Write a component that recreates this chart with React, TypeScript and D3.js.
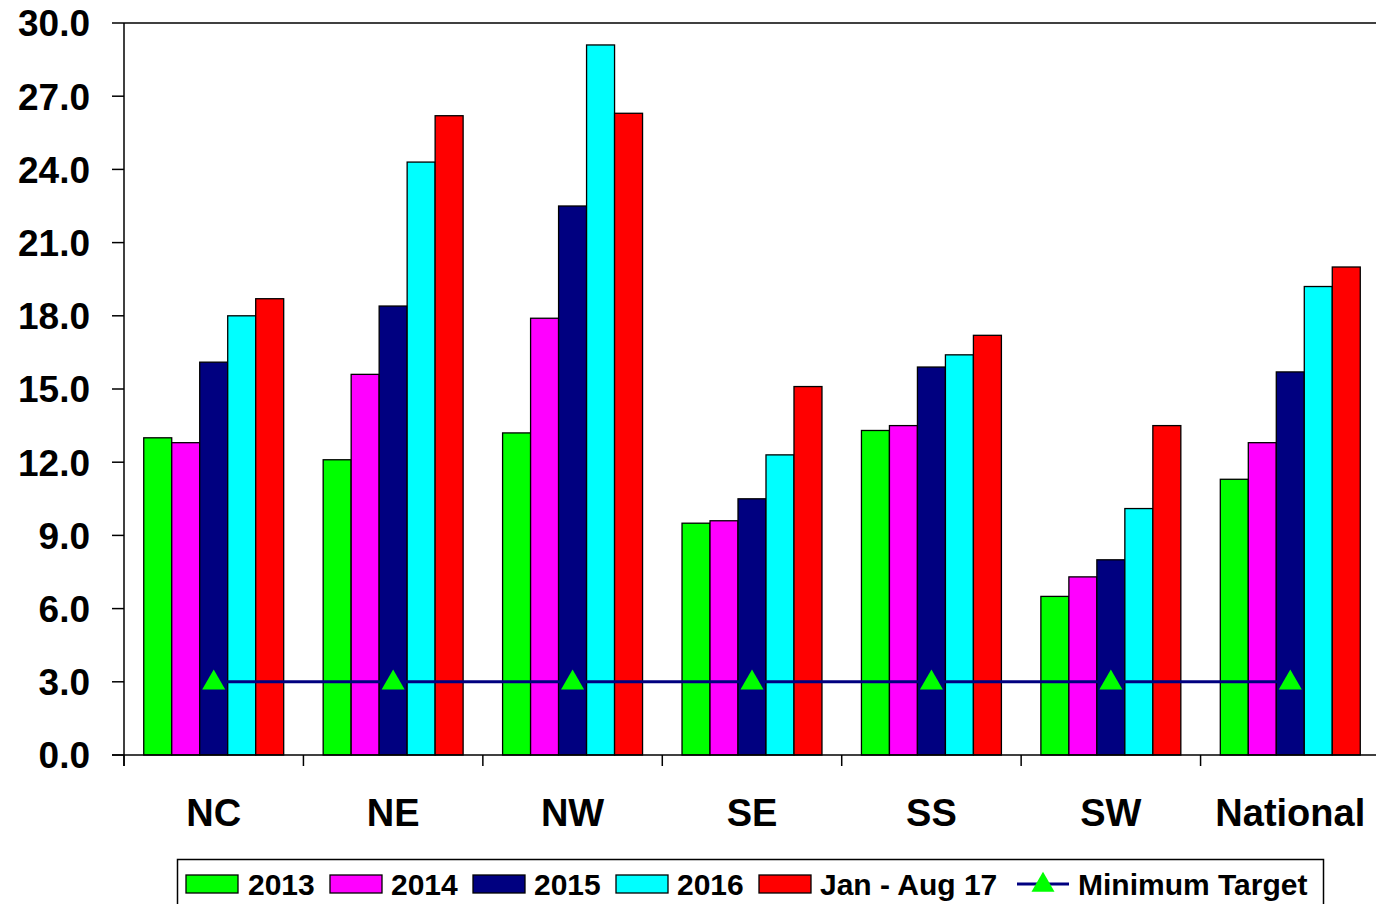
import React from "react";
import * as d3 from "d3";

const categories = ["NC", "NE", "NW", "SE", "SS", "SW", "National"];
const seriesNames = ["2013", "2014", "2015", "2016", "Jan - Aug 17"];
const s2013 = [13.0, 12.1, 13.2, 9.5, 13.3, 6.5, 11.3];
const s2014 = [12.8, 15.6, 17.9, 9.6, 13.5, 7.3, 12.8];
const s2015 = [16.1, 18.4, 22.5, 10.5, 15.9, 8.0, 15.7];
const s2016 = [18.0, 24.3, 29.1, 12.3, 16.4, 10.1, 19.2];
const sJanAug17 = [18.7, 26.2, 26.3, 15.1, 17.2, 13.5, 20.0];
const minTarget = [3.0, 3.0, 3.0, 3.0, 3.0, 3.0, 3.0];
const yTicks = [0, 3, 6, 9, 12, 15, 18, 21, 24, 27, 30];
const colors = ["#00ff00", "#ff00ff", "#000080", "#00ffff", "#ff0000"];
const lineLabel = "Minimum Target";

const W = 1376;
const H = 904;
const FONT = "Arial, 'Liberation Sans', sans-serif";

export default function App() {
  const left = 124;
  const right = 1380;
  const top = 23;
  const bottom = 755;
  const series = [s2013, s2014, s2015, s2016, sJanAug17];

  const x = d3.scaleBand<string>().domain(categories).range([left, right]).paddingInner(0).paddingOuter(0);
  const y = d3.scaleLinear().domain([0, 30]).range([bottom, top]);
  const groupFrac = 0.78;
  const gw = x.bandwidth() * groupFrac;
  const inner = d3.scaleBand<number>().domain(d3.range(series.length)).range([0, gw]);

  const lineGen = d3
    .line<number>()
    .x((_, i) => (x(categories[i]) as number) + x.bandwidth() / 2)
    .y((d) => y(d));

  const tri = d3.symbol().type(d3.symbolTriangle).size(230)();

  const legendItems = [
    { sx: 186, tx: 248 },
    { sx: 330, tx: 391 },
    { sx: 473, tx: 534 },
    { sx: 616, tx: 677 },
    { sx: 759, tx: 820 },
  ];

  return (
    <svg width={W} height={H} style={{ position: "absolute", left: 0, top: 0, background: "#fff" }} fontFamily={FONT}>
      <rect x={0} y={0} width={W} height={H} fill="#fff" />
      {/* top border */}
      <line x1={left} x2={right} y1={top} y2={top} stroke="#000" strokeWidth={1.5} />
      {/* bars */}
      {series.map((vals, si) =>
        vals.map((v, ci) => {
          const x0 = (x(categories[ci]) as number) + (x.bandwidth() - gw) / 2 + (inner(si) as number);
          return (
            <rect
              key={`${si}-${ci}`}
              x={x0}
              y={y(v)}
              width={inner.bandwidth()}
              height={bottom - y(v)}
              fill={colors[si]}
              stroke="#000"
              strokeWidth={1.3}
            />
          );
        })
      )}
      {/* y axis */}
      <line x1={left} x2={left} y1={top} y2={bottom + 11} stroke="#000" strokeWidth={1.5} />
      {yTicks.map((t) => (
        <g key={t}>
          <line x1={left - 12} x2={left} y1={y(t)} y2={y(t)} stroke="#000" strokeWidth={1.5} />
          <text
            x={90}
            y={y(t)}
            dy="0.36em"
            textAnchor="end"
            fontSize={37}
            fontWeight="bold"
            fill="#000"
          >
            {t.toFixed(1)}
          </text>
        </g>
      ))}
      {/* x axis */}
      <line x1={left - 12} x2={right} y1={bottom} y2={bottom} stroke="#000" strokeWidth={1.5} />
      {categories.map((c) => (
        <g key={c}>
          <line
            x1={x(c) as number}
            x2={x(c) as number}
            y1={bottom}
            y2={bottom + 11}
            stroke="#000"
            strokeWidth={1.5}
          />
          <text
            x={(x(c) as number) + x.bandwidth() / 2}
            y={826}
            textAnchor="middle"
            fontSize={38}
            fontWeight="bold"
            fill="#000"
          >
            {c}
          </text>
        </g>
      ))}
      {/* min target line */}
      <path d={lineGen(minTarget) || ""} fill="none" stroke="#000080" strokeWidth={3} />
      {minTarget.map((v, i) => (
        <path
          key={i}
          d={tri || ""}
          transform={`translate(${(x(categories[i]) as number) + x.bandwidth() / 2},${y(v) + 1})`}
          fill="#00ff00"
        />
      ))}
      {/* legend */}
      <rect x={177.5} y={859.5} width={1146} height={60} fill="#fff" stroke="#000" strokeWidth={1.5} />
      {seriesNames.map((n, i) => (
        <g key={n}>
          <rect
            x={legendItems[i].sx}
            y={875}
            width={52}
            height={18}
            fill={colors[i]}
            stroke="#000"
            strokeWidth={1.3}
          />
          <text x={legendItems[i].tx} y={895} fontSize={30} fontWeight="bold" fill="#000">
            {n}
          </text>
        </g>
      ))}
      <line x1={1017} x2={1069} y1={884} y2={884} stroke="#000080" strokeWidth={3} />
      <path d={tri || ""} transform="translate(1043,885)" fill="#00ff00" />
      <text x={1078} y={895} fontSize={30} fontWeight="bold" fill="#000">
        {lineLabel}
      </text>
    </svg>
  );
}
